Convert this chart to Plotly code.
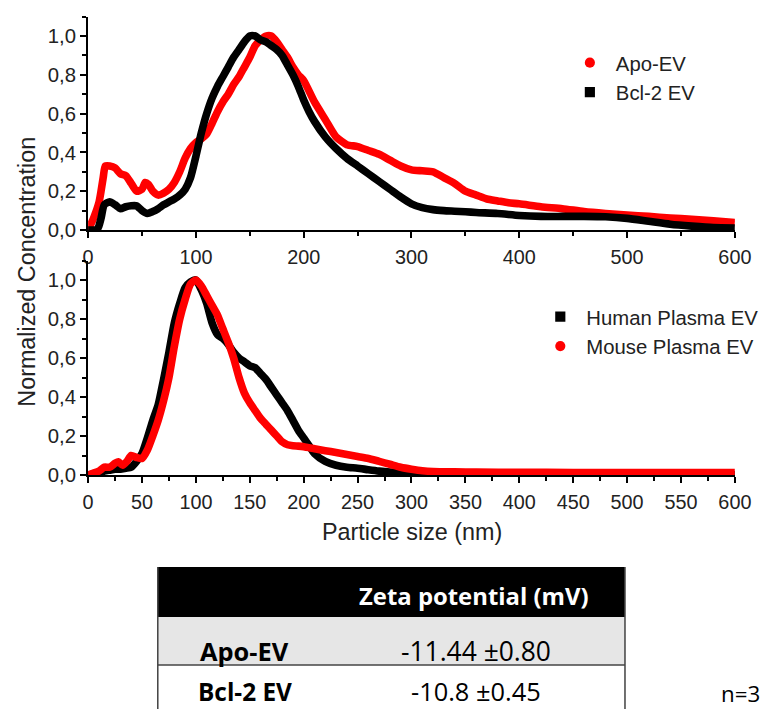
import plotly.graph_objects as go

# design grid (pixels) and rendered figure size
W, H = 766, 709
K = 1.0155
WF, HF = round(W * K), round(H * K)

# ---- size distributions (NTA), top panel ----
apo_x = [0, 5, 10, 12, 14, 16, 20, 25, 30, 35, 40, 45, 50, 53, 56, 60, 65, 70, 75, 80,
         85, 90, 95, 100, 105, 110, 115, 120, 125, 130, 135, 140, 145, 150, 155, 160,
         165, 170, 175, 180, 185, 190, 195, 200, 210, 220, 230, 240, 250, 260, 270,
         280, 290, 300, 310, 320, 330, 340, 350, 360, 370, 380, 390, 400, 420, 440,
         460, 480, 500, 520, 540, 560, 580, 600]
apo_y = [0.0, 0.06, 0.14, 0.2, 0.27, 0.33, 0.33, 0.32, 0.29, 0.28, 0.24, 0.2, 0.21,
         0.245, 0.235, 0.2, 0.18, 0.19, 0.21, 0.245, 0.3, 0.37, 0.42, 0.45, 0.47,
         0.495, 0.55, 0.61, 0.66, 0.7, 0.75, 0.79, 0.84, 0.89, 0.95, 0.98, 1.0, 1.0,
         0.97, 0.93, 0.89, 0.84, 0.8, 0.77, 0.66, 0.57, 0.48, 0.44, 0.43, 0.41, 0.39,
         0.36, 0.33, 0.31, 0.305, 0.3, 0.27, 0.24, 0.2, 0.18, 0.16, 0.15, 0.14, 0.135,
         0.12, 0.11, 0.095, 0.085, 0.077, 0.07, 0.062, 0.055, 0.047, 0.038]

bcl_x = [0, 5, 8, 10, 12, 15, 20, 25, 30, 35, 40, 45, 50, 55, 60, 65, 70, 75, 80, 85,
         90, 95, 100, 105, 110, 115, 120, 125, 130, 135, 140, 145, 150, 155, 160, 165,
         170, 175, 180, 185, 190, 195, 200, 205, 210, 220, 230, 240, 250, 260, 270,
         280, 290, 300, 310, 320, 330, 340, 350, 360, 380, 400, 420, 440, 460, 480,
         500, 520, 540, 560, 580, 600]
bcl_y = [0.0, 0.0, 0.0, 0.02, 0.06, 0.13, 0.145, 0.13, 0.11, 0.12, 0.125, 0.125, 0.1,
         0.085, 0.095, 0.11, 0.13, 0.145, 0.16, 0.18, 0.21, 0.27, 0.38, 0.5, 0.6, 0.68,
         0.74, 0.79, 0.84, 0.89, 0.93, 0.97, 1.0, 1.0, 0.98, 0.97, 0.95, 0.93, 0.9,
         0.85, 0.8, 0.74, 0.67, 0.61, 0.56, 0.48, 0.42, 0.37, 0.33, 0.29, 0.25, 0.21,
         0.17, 0.135, 0.115, 0.105, 0.1, 0.097, 0.094, 0.09, 0.085, 0.075, 0.07, 0.07,
         0.07, 0.068, 0.06, 0.045, 0.03, 0.02, 0.012, 0.01]

# ---- size distributions, bottom panel ----
human_x = [0, 5, 10, 15, 20, 25, 30, 35, 40, 45, 50, 55, 60, 65, 70, 75, 80, 85, 90,
           95, 100, 105, 110, 115, 120, 125, 130, 135, 140, 145, 150, 155, 160, 165,
           170, 175, 180, 185, 190, 195, 200, 205, 210, 220, 230, 240, 250, 260, 270,
           280, 290, 300, 310, 320, 340, 360, 400, 450, 500, 550, 600]
human_y = [0.0, 0.005, 0.01, 0.02, 0.025, 0.03, 0.03, 0.035, 0.04, 0.07, 0.11, 0.19,
           0.28, 0.36, 0.49, 0.63, 0.78, 0.88, 0.96, 0.99, 1.0, 0.95, 0.88, 0.78, 0.72,
           0.7, 0.67, 0.63, 0.6, 0.58, 0.56, 0.55, 0.52, 0.49, 0.45, 0.41, 0.37, 0.33,
           0.28, 0.23, 0.19, 0.15, 0.11, 0.07, 0.05, 0.04, 0.035, 0.027, 0.02, 0.015,
           0.012, 0.01, 0.007, 0.005, 0.004, 0.003, 0.002, 0.001, 0.001, 0.001, 0.001]

mouse_x = [0, 5, 10, 15, 20, 25, 28, 32, 36, 40, 45, 50, 55, 60, 65, 70, 75, 80, 85,
           90, 95, 100, 105, 110, 115, 120, 125, 130, 135, 140, 145, 150, 155, 160,
           165, 170, 175, 180, 185, 190, 195, 200, 210, 220, 230, 240, 250, 260, 270,
           280, 290, 300, 310, 320, 340, 360, 400, 450, 500, 550, 600]
mouse_y = [0.0, 0.01, 0.02, 0.04, 0.04, 0.06, 0.068, 0.05, 0.07, 0.1, 0.09, 0.085,
           0.128, 0.2, 0.28, 0.38, 0.5, 0.66, 0.8, 0.9, 0.98, 1.0, 0.97, 0.92, 0.87,
           0.82, 0.75, 0.68, 0.6, 0.5, 0.42, 0.37, 0.33, 0.29, 0.26, 0.23, 0.2, 0.17,
           0.155, 0.15, 0.148, 0.145, 0.135, 0.125, 0.115, 0.105, 0.095, 0.085, 0.07,
           0.055, 0.04, 0.03, 0.022, 0.018, 0.016, 0.015, 0.014, 0.013, 0.013, 0.013,
           0.013]

# ---- zeta potential table ----
table_header = "Zeta potential (mV)"
table_rows = ["Apo-EV", "Bcl-2 EV"]
table_values = ["-11.44 ±0.80", "-10.8 ±0.45"]
n_label = "n=3"

RED = "#ff0000"
BLACK = "#000000"
FONT = "Liberation Sans, Arial, sans-serif"
TFONT = "Open Sans, sans-serif"


def px(x):
    return x / W


def py(y):
    return 1 - y / H


def fs(size):
    return size * K


fig = go.Figure()


def curve(x, y, color, xa, ya):
    fig.add_trace(go.Scatter(
        x=x, y=y, mode="lines", xaxis=xa, yaxis=ya, showlegend=False,
        line=dict(color=color, width=fs(7.5), shape="spline", smoothing=0.6),
        hoverinfo="skip"))


def legend_entry(name, color, symbol, legend):
    fig.add_trace(go.Scatter(
        x=[None], y=[None], mode="markers", name=name, legend=legend,
        marker=dict(color=color, symbol=symbol, size=fs(10)),
        xaxis="x", yaxis="y"))


# top panel: red below, black above
curve(apo_x, apo_y, RED, "x", "y")
curve(bcl_x, bcl_y, BLACK, "x", "y")
# bottom panel: black below, red above
curve(human_x, human_y, BLACK, "x2", "y2")
curve(mouse_x, mouse_y, RED, "x2", "y2")

legend_entry("Apo-EV", RED, "circle", "legend")
legend_entry("Bcl-2 EV", BLACK, "square", "legend")
legend_entry("Human Plasma EV", BLACK, "square", "legend2")
legend_entry("Mouse Plasma EV", RED, "circle", "legend2")

axis_common = dict(
    showline=True, linecolor="black", linewidth=fs(2), mirror=False,
    ticks="outside", ticklen=fs(6), tickwidth=fs(2), tickcolor="black",
    showgrid=False, zeroline=False,
)
xtick_font = dict(family=FONT, size=fs(19.5), color="#222")
ytick_font = dict(family=FONT, size=fs(20), color="#222")


def minor(d):
    return dict(ticks="outside", dtick=d, ticklen=fs(4), tickwidth=fs(1.5),
                tickcolor="black")


xdom = [px(83.3), px(739.5)]

fig.update_layout(
    width=WF, height=HF,
    margin=dict(l=0, r=0, t=0, b=0),
    paper_bgcolor="white", plot_bgcolor="white",
    separators=", ",
    xaxis=dict(domain=xdom, anchor="y", range=[0, 600], dtick=100, tick0=0,
               minor=minor(50), tickfont=xtick_font, ticklabelstandoff=2,
               **axis_common),
    yaxis=dict(domain=[py(230), py(16.6)], anchor="x", range=[0, 1.1], dtick=0.2,
               tick0=0, tickformat=".1f", minor=minor(0.1), tickfont=ytick_font,
               **axis_common),
    xaxis2=dict(domain=xdom, anchor="y2", range=[0, 600], dtick=50, tick0=0,
                minor=minor(25), tickfont=xtick_font, ticklabelstandoff=2,
                **axis_common),
    yaxis2=dict(domain=[py(475), py(260.5)], anchor="x2", range=[0, 1.1], dtick=0.2,
                tick0=0, tickformat=".1f", minor=minor(0.1), tickfont=ytick_font,
                **axis_common),
    legend=dict(x=px(566), y=py(43), xanchor="left", yanchor="top",
                font=dict(family=FONT, size=fs(20), color="#222"),
                itemwidth=42, bgcolor="rgba(0,0,0,0)"),
    legend2=dict(x=px(536), y=py(297), xanchor="left", yanchor="top",
                 font=dict(family=FONT, size=fs(20), color="#222"),
                 itemwidth=42, bgcolor="rgba(0,0,0,0)"),
)


def label(text, x, y, size, family=FONT, color="#222", angle=0):
    return dict(text=text, x=px(x), y=py(y), xref="paper", yref="paper",
                xanchor="center", yanchor="middle", showarrow=False,
                textangle=angle,
                font=dict(family=family, size=fs(size), color=color))


annotations = [
    label("Normalized Concentration", 21, 272, 23, angle=-90),
    label("Particle size (nm)", 412, 532, 23),
]

# table layout (pixel positions)
t_left, t_right = 154, 628
t_top, head_bot, row1_bot, t_bot = 567, 617, 665, 712
line_style = dict(color="#444", width=fs(1.5))
shapes = [
    dict(type="rect", xref="paper", yref="paper", x0=px(t_left), x1=px(t_right),
         y0=py(head_bot), y1=py(t_top), fillcolor="black", line=dict(width=0)),
    dict(type="rect", xref="paper", yref="paper", x0=px(t_left), x1=px(t_right),
         y0=py(row1_bot), y1=py(head_bot), fillcolor="#e6e6e6", line=dict(width=0)),
    dict(type="line", xref="paper", yref="paper", x0=px(t_left), x1=px(t_right),
         y0=py(row1_bot), y1=py(row1_bot), line=line_style),
    dict(type="line", xref="paper", yref="paper", x0=px(t_left), x1=px(t_left),
         y0=py(t_top), y1=py(t_bot), line=line_style),
    dict(type="line", xref="paper", yref="paper", x0=px(t_right), x1=px(t_right),
         y0=py(t_top), y1=py(t_bot), line=line_style),
]

annotations.append(label("<b>%s</b>" % table_header, 475, 595, 23.5,
                         family=TFONT, color="white"))
row_centers = [651, 691]
row_sizes = [(25, 26), (24, 25)]
for name, val, yc, (s_name, s_val) in zip(table_rows, table_values, row_centers,
                                          row_sizes):
    annotations.append(label("<b>%s</b>" % name, 242, yc, s_name, family=TFONT,
                             color="black"))
    annotations.append(label(val, 477, yc, s_val, family=TFONT, color="black"))
annotations.append(label(n_label, 745, 693, 22, family=TFONT, color="black"))

fig.update_layout(annotations=annotations, shapes=shapes)

fig.write_html("out.html")
